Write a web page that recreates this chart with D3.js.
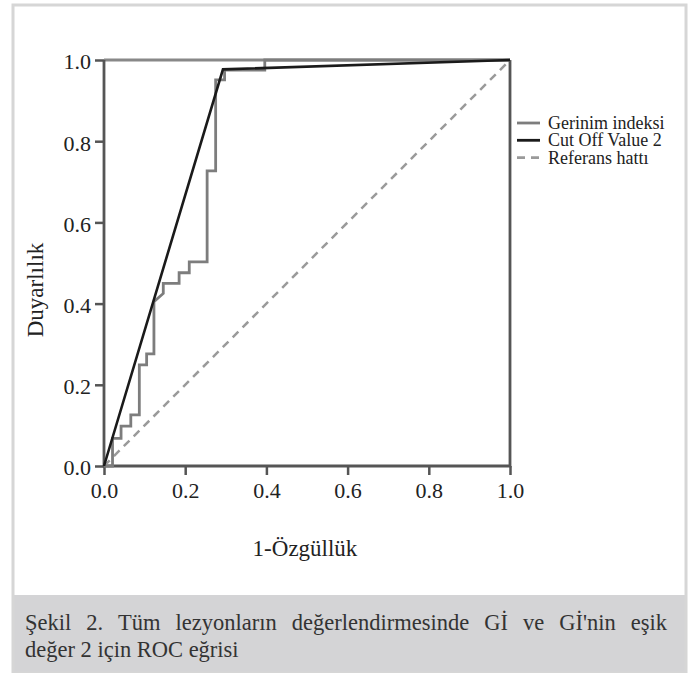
<!DOCTYPE html>
<html>
<head>
<meta charset="utf-8">
<script src="https://cdn.jsdelivr.net/npm/d3@7"></script>
<style>
  body { margin: 0; background: #fff; }
  svg text { font-family: "Liberation Serif", "Times New Roman", serif; }
</style>
</head>
<body>
<svg id="chart" width="691" height="673"></svg>
<script>
// ROC curve values
const gerinimX = [0, 0.021, 0.021, 0.042, 0.042, 0.066, 0.066, 0.087, 0.087, 0.105, 0.105, 0.123, 0.123,
  0.146, 0.146, 0.185, 0.185, 0.21, 0.21, 0.254, 0.254, 0.275, 0.275, 0.297, 0.297, 0.396, 0.396, 1];
const gerinimY = [0, 0, 0.068, 0.068, 0.098, 0.098, 0.126, 0.126, 0.249, 0.249, 0.276, 0.276, 0.405,
  0.425, 0.45, 0.45, 0.476, 0.476, 0.503, 0.503, 0.727, 0.727, 0.951, 0.951, 0.975, 0.975, 1, 1];
const cutoffX = [0, 0.293, 1];
const cutoffY = [0, 0.977, 1];
const refX = [0, 1];
const refY = [0, 1];
const tickVals = [0, 0.2, 0.4, 0.6, 0.8, 1.0];
const legendLabels = ['Gerinim indeksi', 'Cut Off Value 2', 'Referans hattı'];
const captionLines = [
  "Şekil 2. Tüm lezyonların değerlendirmesinde Gİ ve Gİ'nin eşik",
  "değer 2 için ROC eğrisi"
];

const FONT = '"Liberation Serif", "Times New Roman", serif';
const svg = d3.select('#chart');

// panel + caption background
svg.append('rect').attr('x', 12).attr('y', 595).attr('width', 675).attr('height', 78).attr('fill', '#d4d4d6');
svg.append('rect').attr('x', 13).attr('y', 5).attr('width', 673).attr('height', 668)
  .attr('fill', 'none').attr('stroke', '#d6d6d6').attr('stroke-width', 3);

const x = d3.scaleLinear().domain([0, 1]).range([104, 510]);
const y = d3.scaleLinear().domain([0, 1]).range([466, 60]);

const axisColor = '#555';

// axes
const gx = svg.append('g').attr('transform', 'translate(0,466)')
  .call(d3.axisBottom(x).tickValues(tickVals).tickFormat(d3.format('.1f')).tickSize(9).tickSizeOuter(0).tickPadding(7));
const gy = svg.append('g').attr('transform', 'translate(104,0)')
  .call(d3.axisLeft(y).tickValues(tickVals).tickFormat(d3.format('.1f')).tickSize(9).tickSizeOuter(0).tickPadding(4));
[gx, gy].forEach(g => {
  g.attr('font-family', null).attr('font-size', null);
  g.select('.domain').remove();
  g.selectAll('line').attr('stroke', axisColor).attr('stroke-width', 2.5);
  g.selectAll('text').style('font-family', FONT).style('font-size', '22px').attr('fill', '#222');
});
gy.selectAll('text').attr('dy', '0.4em');

// frame
svg.append('line').attr('x1', x(0)).attr('x2', x(1)).attr('y1', y(1)).attr('y2', y(1))
  .attr('stroke', '#888').attr('stroke-width', 3);
svg.append('path')
  .attr('d', `M${x(0)},${y(1)}V${y(0)}H${x(1)}V${y(1)}`)
  .attr('fill', 'none').attr('stroke', axisColor).attr('stroke-width', 2.8);

const line = d3.line().x(d => x(d[0])).y(d => y(d[1]));

// reference line
svg.append('path').datum(d3.zip(refX, refY)).attr('d', line)
  .attr('fill', 'none').attr('stroke', '#9a9a9a').attr('stroke-width', 2.5).attr('stroke-dasharray', '8,6');
// Gerinim indeksi
svg.append('path').datum(d3.zip(gerinimX, gerinimY)).attr('d', line)
  .attr('fill', 'none').attr('stroke', '#7d7d7d').attr('stroke-width', 2.8);
// Cut off value 2
svg.append('path').datum(d3.zip(cutoffX, cutoffY)).attr('d', line)
  .attr('fill', 'none').attr('stroke', '#1a1a1a').attr('stroke-width', 2.6);

// axis titles
svg.append('text').attr('x', 305).attr('y', 556).attr('text-anchor', 'middle')
  .style('font-family', FONT).style('font-size', '23px').attr('fill', '#222').text('1-Özgüllük');
svg.append('text').attr('transform', 'translate(43,290) rotate(-90)').attr('text-anchor', 'middle')
  .style('font-family', FONT).style('font-size', '23px').attr('fill', '#222').text('Duyarlılık');

// legend
const legStyles = [
  { stroke: '#7d7d7d', dash: null },
  { stroke: '#1a1a1a', dash: null },
  { stroke: '#9a9a9a', dash: '8,6' }
];
const leg = svg.append('g').attr('transform', 'translate(517,123)');
legendLabels.forEach((lab, i) => {
  const row = leg.append('g').attr('transform', `translate(0,${i * 17.3})`);
  row.append('line').attr('x1', 0).attr('x2', 23).attr('y1', 0).attr('y2', 0)
    .attr('stroke', legStyles[i].stroke).attr('stroke-width', 2.8)
    .attr('stroke-dasharray', legStyles[i].dash);
  row.append('text').attr('x', 31).attr('y', 6).style('font-family', FONT).style('font-size', '18px')
    .attr('fill', '#222').text(lab);
});

// caption, first line justified across the box
const capLeft = 25, capWidth = 642;
captionLines.forEach((txt, li) => {
  const words = txt.split(' ');
  const yy = 630 + li * 27;
  const els = words.map(w => svg.append('text').attr('y', yy)
    .style('font-family', FONT).style('font-size', '22.5px').attr('fill', '#333').text(w));
  const widths = els.map(e => e.node().getComputedTextLength());
  const total = d3.sum(widths);
  const gap = li < captionLines.length - 1 ? (capWidth - total) / (words.length - 1) : 5.6;
  let cx = capLeft;
  els.forEach((e, i) => { e.attr('x', cx); cx += widths[i] + gap; });
});
</script>
</body>
</html>
